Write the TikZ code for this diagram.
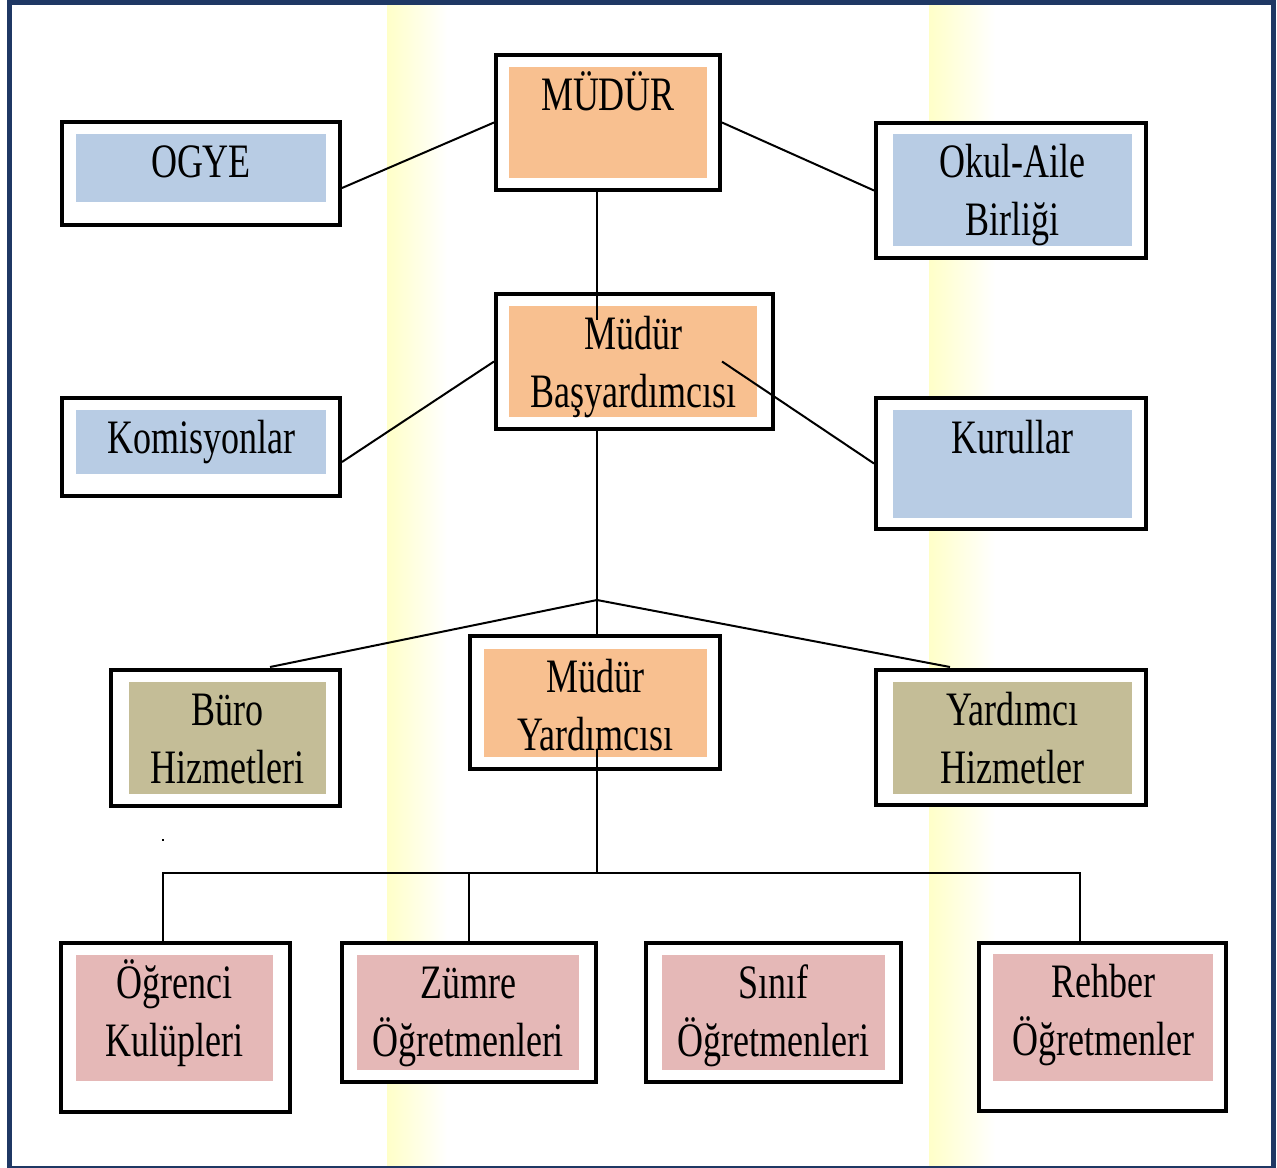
\documentclass[tikz,border=0pt]{standalone}
\usepackage{fontspec}
\newfontfamily\orgfont[FakeStretch=0.75]{Liberation Serif}
\usepackage{tikz}
\usetikzlibrary{calc}

\definecolor{navy}{HTML}{1F3864}
\definecolor{paleblue}{HTML}{B8CCE4}
\definecolor{peach}{HTML}{F8C090}
\definecolor{khaki}{HTML}{C4BD97}
\definecolor{rose}{HTML}{E5B8B7}
\definecolor{paleyel}{HTML}{FFFFC8}

\tikzset{
  outerbox/.style={draw, line width=2pt, fill=white, inner sep=0pt},
  panel/.style={inner sep=0pt},
  lbl/.style={font={\orgfont\fontsize{24}{29}\selectfont}, align=center, inner sep=0pt, anchor=base},
  link/.style={line width=1pt},
  bus/.style={line width=1.4pt},
}

\begin{document}
\begin{tikzpicture}[x=0.5pt,y=-0.5pt]
\useasboundingbox (0,0) rectangle (1277,1167);
% background
\shade[left color=paleyel, right color=white] (387,4) rectangle (447,1165);
\shade[left color=paleyel, right color=white] (929,4) rectangle (995,1165);
\draw[navy, line width=2.5pt] (9.5,2) rectangle (1273,1168);

% top level
\node[outerbox, minimum width=112pt, minimum height=67.5pt] (mudur) at (608,122.5) {};
\node[panel, fill=peach, minimum width=99pt, minimum height=55.5pt] (mudurP) at (608,122.5) {};
\node[lbl] (mudurT) at ($(mudurP.north)+(0,44)$) {MÜDÜR};

\node[outerbox, minimum width=139pt, minimum height=51.5pt] (ogye) at (201,173.5) {};
\node[panel, fill=paleblue, minimum width=125pt, minimum height=34pt] (ogyeP) at (201,168) {};
\node[lbl] (ogyeT) at ($(ogyeP.north)+(0,44)$) {OGYE};

\node[outerbox, minimum width=135pt, minimum height=67.5pt] (okul) at (1011,190.5) {};
\node[panel, fill=paleblue, minimum width=119.5pt, minimum height=56pt] (okulP) at (1012.5,190) {};
\node[lbl] (okulT) at ($(okulP.north)+(0,102)$) {Okul-Aile\\Birliği};

% second level
\node[outerbox, minimum width=138.5pt, minimum height=67.5pt] (basyard) at (634.5,361.5) {};
\node[panel, fill=peach, minimum width=124pt, minimum height=55.5pt] (basyardP) at (633,361.5) {};
\node[lbl] (basyardT) at ($(basyardP.north)+(0,102)$) {Müdür\\Başyardımcısı};

\node[outerbox, minimum width=139pt, minimum height=49pt] (komis) at (201,447) {};
\node[panel, fill=paleblue, minimum width=125pt, minimum height=32pt] (komisP) at (201,442) {};
\node[lbl] (komisT) at ($(komisP.north)+(0,44)$) {Komisyonlar};

\node[outerbox, minimum width=135pt, minimum height=65.5pt] (kurul) at (1011,463.5) {};
\node[panel, fill=paleblue, minimum width=119.5pt, minimum height=54pt] (kurulP) at (1012.5,464) {};
\node[lbl] (kurulT) at ($(kurulP.north)+(0,44)$) {Kurullar};

% third level
\node[outerbox, minimum width=125pt, minimum height=66.5pt] (myard) at (595,702.5) {};
\node[panel, fill=peach, minimum width=111.5pt, minimum height=54pt] (myardP) at (595.5,703) {};
\node[lbl] (myardT) at ($(myardP.north)+(0,102)$) {Müdür\\Yardımcısı};

\node[outerbox, minimum width=114.5pt, minimum height=68pt] (buro) at (225.5,738) {};
\node[panel, fill=khaki, minimum width=98.5pt, minimum height=56pt] (buroP) at (227.5,738) {};
\node[lbl] (buroT) at ($(buroP.north)+(0,102)$) {Büro\\Hizmetleri};

\node[outerbox, minimum width=135pt, minimum height=67.5pt] (yard) at (1011,737.5) {};
\node[panel, fill=khaki, minimum width=119.5pt, minimum height=56pt] (yardP) at (1012.5,738) {};
\node[lbl] (yardT) at ($(yardP.north)+(0,102)$) {Yardımcı\\Hizmetler};

% bottom row
\node[outerbox, minimum width=114.5pt, minimum height=84.5pt] (ogr) at (175.5,1027.5) {};
\node[panel, fill=rose, minimum width=98.5pt, minimum height=63pt] (ogrP) at (174.5,1018) {};
\node[lbl] (ogrT) at ($(ogrP.north)+(0,102)$) {Öğrenci\\Kulüpleri};

\node[outerbox, minimum width=127pt, minimum height=69.5pt] (zumre) at (469,1012.5) {};
\node[panel, fill=rose, minimum width=111pt, minimum height=57.5pt] (zumreP) at (468,1012.5) {};
\node[lbl] (zumreT) at ($(zumreP.north)+(0,102)$) {Zümre\\Öğretmenleri};

\node[outerbox, minimum width=127.5pt, minimum height=69.5pt] (sinif) at (773.5,1012.5) {};
\node[panel, fill=rose, minimum width=111.5pt, minimum height=57.5pt] (sinifP) at (773.5,1012.5) {};
\node[lbl] (sinifT) at ($(sinifP.north)+(0,102)$) {Sınıf\\Öğretmenleri};

\node[outerbox, minimum width=123.5pt, minimum height=84pt] (rehber) at (1102.5,1027) {};
\node[panel, fill=rose, minimum width=110pt, minimum height=63.5pt] (rehberP) at (1103,1017.5) {};
\node[lbl] (rehberT) at ($(rehberP.north)+(0,102)$) {Rehber\\Öğretmenler};

% connectors
\coordinate (trunk) at (597,600);
\coordinate (bus) at (597,873);
\draw[link] (mudur.west) -- ($(ogye.east)+(0,14.5)$);
\draw[link] (mudur.east) -- (okul.west);
\draw[link] (mudur.south -| trunk) -- ($(basyard.north -| trunk)+(0,28)$);
\draw[link] (basyard.west) -- ($(komis.east)+(0,15)$);
\draw[link] ($(basyard.east)+(-53,0)$) -- (kurul.west);
\draw[link] (basyard.south -| trunk) -- (myard.north -| trunk);
\draw[link] ($(buro.north)+(44.5,-1)$) -- (trunk) -- ($(yard.north)+(-61,-1)$);
\draw[link] ($(myard.south -| trunk)+(0,-21)$) -- (bus);
\draw[bus] ($(ogr.north)+(-12.5,0)$) |- (bus);
\draw[bus] ($(rehber.north)+(-22.5,0)$) |- (bus);
\draw[bus] (zumre.north) -- (zumre.north |- bus);
\draw[bus] ($(sinif.north)+(1.5,0)$) -- ($(sinif.north)+(1.5,0)$ |- bus);
\fill (162,839) rectangle (164,841);
\end{tikzpicture}
\end{document}
